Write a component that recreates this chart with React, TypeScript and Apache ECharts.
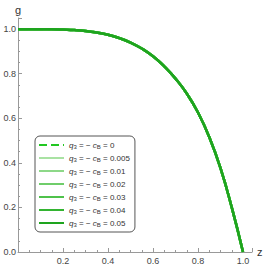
import React, { useEffect, useRef } from "react";
import * as echarts from "echarts";

const zValues = [0, 0.05, 0.1, 0.15, 0.2, 0.25, 0.3, 0.35, 0.4, 0.45, 0.5, 0.55, 0.6, 0.65, 0.7, 0.75, 0.8, 0.85, 0.9, 0.95, 1.0];
const gValues = [1.0, 1.0, 1.0, 0.9995, 0.998, 0.996, 0.992, 0.985, 0.975, 0.96, 0.94, 0.913, 0.878, 0.833, 0.778, 0.711, 0.626, 0.516, 0.376, 0.2, 0.0];
const cValues = ["0", "0.005", "0.01", "0.02", "0.03", "0.04", "0.05"];
const colors = ["#22c722", "#a9e2a3", "#8dd888", "#6fcd6a", "#4fc24b", "#33b431", "#1ea41e"];
const xTicks = [0.2, 0.4, 0.6, 0.8, 1.0];
const yTicks = [0, 0.2, 0.4, 0.6, 0.8, 1.0];

export default function App() {
  const ref = useRef<HTMLDivElement>(null);
  useEffect(() => {
    const chart = echarts.init(ref.current!, null, { renderer: "svg" });
    const font = "Arial, 'Liberation Sans', sans-serif";
    const names = cValues.map((c) => "{i|q}{s|3} = − {i|c}{s|B} = " + c);
    const series = cValues.map((c, k) => ({
      name: names[k],
      type: "line",
      smooth: 0.5,
      symbol: "none",
      data: zValues.map((z, i) => [z, gValues[i]]),
      lineStyle: { color: colors[k], width: 2.5, type: k === 0 ? "dashed" : "solid" },
      itemStyle: { color: colors[k] },
    }));
    const near = (v: number, arr: number[]) => arr.some((t) => Math.abs(t - v) < 1e-6);
    chart.setOption({
      animation: false,
      grid: { left: 18, right: 15, top: 18, bottom: 15, containLabel: false },
      xAxis: {
        type: "value",
        min: 0,
        max: 1.04,
        interval: 0.2,
        name: "z",
        nameLocation: "end",
        nameGap: 5,
        nameTextStyle: { fontSize: 11, color: "#333", fontFamily: font },
        axisLine: { show: true, lineStyle: { color: "#999" } },
        axisTick: { show: true, inside: true, length: 4, lineStyle: { color: "#999" } },
        minorTick: { show: true, splitNumber: 4, length: 2, lineStyle: { color: "#999" } },
        splitLine: { show: false },
        axisLabel: {
          fontSize: 9,
          color: "#444",
          fontFamily: font,
          margin: 4,
          showMaxLabel: false,
          formatter: (v: number) => (near(v, xTicks) ? v.toFixed(1) : ""),
        },
      },
      yAxis: {
        type: "value",
        min: 0,
        max: 1.05,
        interval: 0.2,
        name: "g",
        nameLocation: "end",
        nameGap: 3,
        nameTextStyle: { fontSize: 11, color: "#333", fontFamily: font, align: "center" },
        axisLine: { show: true, lineStyle: { color: "#999" } },
        axisTick: { show: true, inside: true, length: 4, lineStyle: { color: "#999" } },
        minorTick: { show: true, splitNumber: 4, length: 2, lineStyle: { color: "#999" } },
        splitLine: { show: false },
        axisLabel: {
          fontSize: 9,
          color: "#444",
          fontFamily: font,
          margin: 2,
          showMaxLabel: false,
          formatter: (v: number) => (near(v, yTicks) ? v.toFixed(1) : ""),
        },
      },
      legend: {
        orient: "vertical",
        left: 35,
        top: 136,
        itemWidth: 25,
        itemHeight: 8,
        itemGap: 4,
        padding: [5, 5, 4, 3],
        borderColor: "#555",
        borderWidth: 1,
        borderRadius: 5,
        backgroundColor: "#fff",
        data: names,
        itemStyle: { opacity: 0 },
        textStyle: {
          fontSize: 8,
          color: "#333",
          fontFamily: font,
          rich: {
            i: { fontStyle: "italic", fontSize: 8, color: "#333", fontFamily: font },
            s: { fontSize: 6, color: "#333", fontFamily: font, padding: [4, 0, 0, 0] },
          },
        },
      },
      series,
    });
    return () => chart.dispose();
  }, []);
  return <div ref={ref} style={{ width: 267, height: 267, position: "absolute", left: 0, top: 0, background: "#fff" }} />;
}
